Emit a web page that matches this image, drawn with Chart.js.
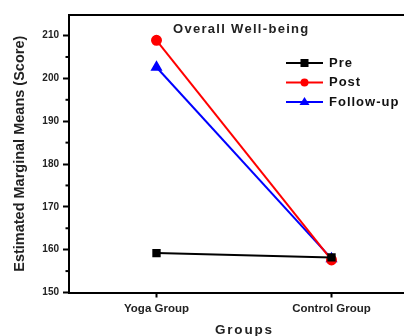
<!DOCTYPE html>
<html>
<head>
<meta charset="utf-8">
<script src="https://cdn.jsdelivr.net/npm/chart.js@4"></script>
<style>
  html, body { margin: 0; padding: 0; background: #fff; overflow: hidden; }
  #wrap { width: 432px; height: 336px; position: relative; }
</style>
</head>
<body>
<div id="wrap"><canvas id="chart"></canvas></div>
<script>
// DATA
const groups = ["Yoga Group", "Control Group"];
const preMeans = [159.2, 158.2];
const postMeans = [208.9, 157.6];
const followMeans = [202.6, 157.9];
const yTicks = [150, 160, 170, 180, 190, 200, 210];
const yMinorTicks = [155, 165, 175, 185, 195, 205];

const FONT = "'Liberation Sans', Arial, sans-serif";

// frame, minor ticks, inner title, x title and legend
const extras = {
  id: "extras",
  afterDraw(chart) {
    const ctx = chart.ctx;
    const a = chart.chartArea;
    const y = chart.scales.y;
    ctx.save();
    ctx.strokeStyle = "#000";
    ctx.lineWidth = 2;
    ctx.beginPath();
    ctx.moveTo(a.left - 1, a.top);
    ctx.lineTo(a.right, a.top);
    ctx.stroke();
    yMinorTicks.forEach(v => {
      const py = y.getPixelForValue(v);
      ctx.beginPath();
      ctx.moveTo(a.left - 3.5, py);
      ctx.lineTo(a.left, py);
      ctx.stroke();
    });

    // title inside the plot
    ctx.fillStyle = "#222";
    ctx.font = "bold 13px " + FONT;
    ctx.letterSpacing = "1.3px";
    ctx.textAlign = "left";
    ctx.textBaseline = "middle";
    ctx.fillText("Overall Well-being", 173, 29);

    // x axis title
    ctx.letterSpacing = "1.8px";
    ctx.font = "bold 13.5px " + FONT;
    ctx.textAlign = "left";
    ctx.fillText("Groups", 215, 330);

    // legend
    ctx.letterSpacing = "1px";
    ctx.font = "bold 13px " + FONT;
    chart.data.datasets.forEach((ds, i) => {
      const ly = 63 + i * 19.5;
      ctx.strokeStyle = ds.borderColor;
      ctx.lineWidth = 2;
      ctx.beginPath();
      ctx.moveTo(286, ly);
      ctx.lineTo(323, ly);
      ctx.stroke();
      ctx.fillStyle = ds.borderColor;
      const cx = 304.5;
      if (ds.pointStyle === "rect") {
        ctx.fillRect(cx - 4, ly - 4, 8, 8);
      } else if (ds.pointStyle === "circle") {
        ctx.beginPath(); ctx.arc(cx, ly, 4, 0, Math.PI * 2); ctx.fill();
      } else {
        ctx.beginPath();
        ctx.moveTo(cx, ly - 5); ctx.lineTo(cx + 5, ly + 3); ctx.lineTo(cx - 5, ly + 3);
        ctx.closePath(); ctx.fill();
      }
      ctx.fillStyle = "#111";
      ctx.fillText(ds.label, 329, ly);
    });
    ctx.restore();
  }
};

new Chart("chart", {
  type: "line",
  data: {
    labels: groups,
    datasets: [
      { label: "Pre", data: preMeans, borderColor: "#000", backgroundColor: "#000",
        pointStyle: "rect", pointRadius: 4.5, borderWidth: 2 },
      { label: "Post", data: postMeans, borderColor: "#ff0000", backgroundColor: "#ff0000",
        pointStyle: "circle", pointRadius: 4.5, borderWidth: 2 },
      { label: "Follow-up", data: followMeans, borderColor: "#0000ff", backgroundColor: "#0000ff",
        pointStyle: "triangle", pointRadius: 5, borderWidth: 2 }
    ]
  },
  options: {
    responsive: true,
    maintainAspectRatio: false,
    animation: false,
    layout: { padding: { top: 15, right: 13, left: 0, bottom: 0 } },
    plugins: { legend: { display: false }, tooltip: { enabled: false } },
    scales: {
      x: {
        offset: true,
        grid: { offset: false, drawOnChartArea: false, tickLength: 5, tickColor: "#000", tickWidth: 2 },
        border: { color: "#000", width: 2 },
        ticks: { color: "#222", font: { family: FONT, size: 11.5, weight: "bold" }, padding: 4 },
        afterFit(scale) { scale.height = 43.5; }
      },
      y: {
        min: 150,
        max: 214.8,
        afterBuildTicks(scale) { scale.ticks = yTicks.map(v => ({ value: v })); },
        grid: { drawOnChartArea: false, tickLength: 6, tickColor: "#000", tickWidth: 2 },
        border: { color: "#000", width: 2 },
        ticks: { color: "#222", font: { family: FONT, size: 10, weight: "bold" }, padding: 4 },
        title: { display: true, text: "Estimated Marginal Means (Score)", color: "#222",
          font: { family: FONT, size: 14.5, weight: "bold" }, padding: { top: 11, bottom: 0 } },
        afterFit(scale) { scale.width = 69; }
      }
    }
  },
  plugins: [extras]
});
</script>
</body>
</html>
